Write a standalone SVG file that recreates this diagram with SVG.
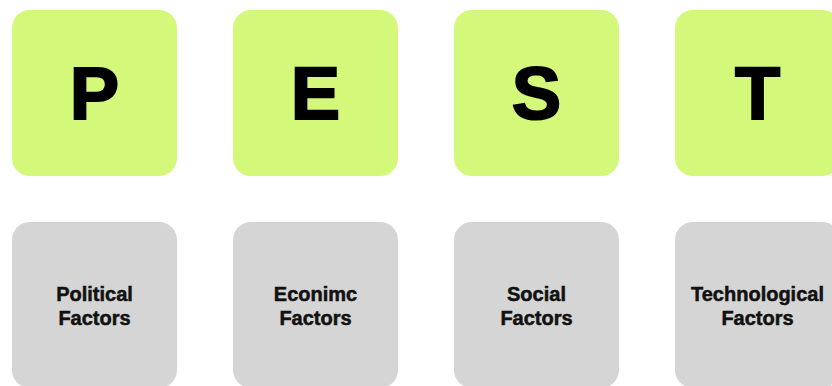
<svg xmlns="http://www.w3.org/2000/svg" width="832" height="386" viewBox="0 0 832 386">
<style>
.g{fill:#d4f87a}
.b{fill:#d5d5d5}
.L{font-family:"Liberation Sans",Arial,sans-serif;font-weight:bold;font-size:74px;fill:#000;stroke:#000;stroke-width:2;text-anchor:middle}
.t{font-family:"Liberation Sans",Arial,sans-serif;font-weight:bold;font-size:20px;fill:#111;stroke:#111;stroke-width:0.5;text-anchor:middle}
</style>
<rect width="832" height="386" fill="#fff"/>
<g id="P"><rect class="g" x="12" y="10" width="165" height="166" rx="18"/><text class="L" x="94.5" y="119">P</text></g>
<g id="E"><rect class="g" x="233" y="10" width="165" height="166" rx="18"/><text class="L" x="315.5" y="119">E</text></g>
<g id="S"><rect class="g" x="454" y="10" width="165" height="166" rx="18"/><text class="L" x="536.5" y="119">S</text></g>
<g id="T"><rect class="g" x="675" y="10" width="165" height="166" rx="18"/><text class="L" x="757.5" y="119">T</text></g>
<g id="pol"><rect class="b" x="12" y="222" width="165" height="166" rx="18"/><text class="t" x="94.5" y="301">Political</text><text class="t" x="94.5" y="325">Factors</text></g>
<g id="eco"><rect class="b" x="233" y="222" width="165" height="166" rx="18"/><text class="t" x="315.5" y="301">Econimc</text><text class="t" x="315.5" y="325">Factors</text></g>
<g id="soc"><rect class="b" x="454" y="222" width="165" height="166" rx="18"/><text class="t" x="536.5" y="301">Social</text><text class="t" x="536.5" y="325">Factors</text></g>
<g id="tec"><rect class="b" x="675" y="222" width="165" height="166" rx="18"/><text class="t" x="757.5" y="301">Technological</text><text class="t" x="757.5" y="325">Factors</text></g>
<g id="connectors"></g>
</svg>
